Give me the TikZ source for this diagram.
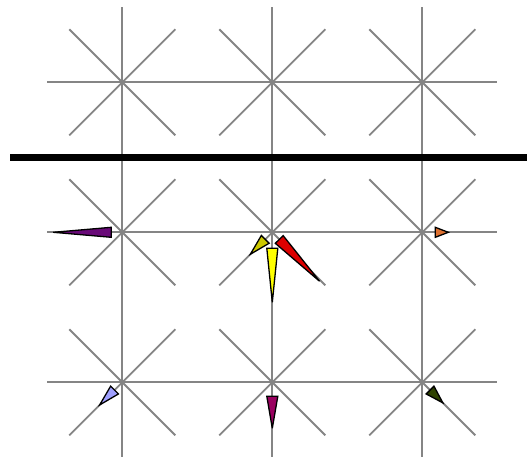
\documentclass[tikz,border=0pt]{standalone}
\usetikzlibrary{calc}
\definecolor{raygray}{HTML}{858585}
\definecolor{cPurple}{HTML}{690A78}
\definecolor{cYellow}{HTML}{FFFF00}
\definecolor{cOlive}{HTML}{CCC800}
\definecolor{cRed}{HTML}{DD0000}
\definecolor{cOrange}{HTML}{DD7030}
\definecolor{cLav}{HTML}{A0A0FF}
\definecolor{cMag}{HTML}{99005F}
\definecolor{cDark}{HTML}{2E4200}
\tikzset{
  ray/.style={draw=raygray, line width=1.8pt},
  dart/.style={draw=black, line width=1.3pt, line join=miter, miter limit=4},
}
% \dartat{center}{angle (clockwise on screen)}{start}{length}{width}{colour}
\newcommand{\dartat}[6]{%
  \begin{scope}[shift={(#1)}, rotate=-#2]
    \filldraw[dart, fill=#6] (#3,-#5/2) -- (#3+#4,0) -- (#3,#5/2) -- cycle;
  \end{scope}}
\begin{document}
\begin{tikzpicture}[x=1pt,y=-1pt]
\useasboundingbox (0,0) rectangle (527,460);
\foreach \i in {0,1,2}{
  \foreach \j in {0,1,2}{
    \coordinate (s\i\j) at ({122.3+150*\i},{82.3+150*\j});
    \foreach \a in {0,45,...,315}{
      \draw[ray] (s\i\j) -- ++(\a:75);
    }
  }
}
\coordinate (barL) at (10,157.5);
\coordinate (barR) at (527,157.5);
\draw[line width=7pt] (barL) -- (barR);
\dartat{s01}{180}{11}{58}{10}{cPurple}
\dartat{s11}{90}{16}{54}{11}{cYellow}
\dartat{s11}{46}{10}{58}{11}{cRed}
\dartat{s11}{135}{10}{21}{11}{cOlive}
\dartat{s21}{0}{13}{13}{10}{cOrange}
\dartat{s02}{135}{11}{21}{11}{cLav}
\dartat{s12}{90}{14}{32}{11}{cMag}
\dartat{s22}{45}{11}{18}{11}{cDark}
\end{tikzpicture}
\end{document}
